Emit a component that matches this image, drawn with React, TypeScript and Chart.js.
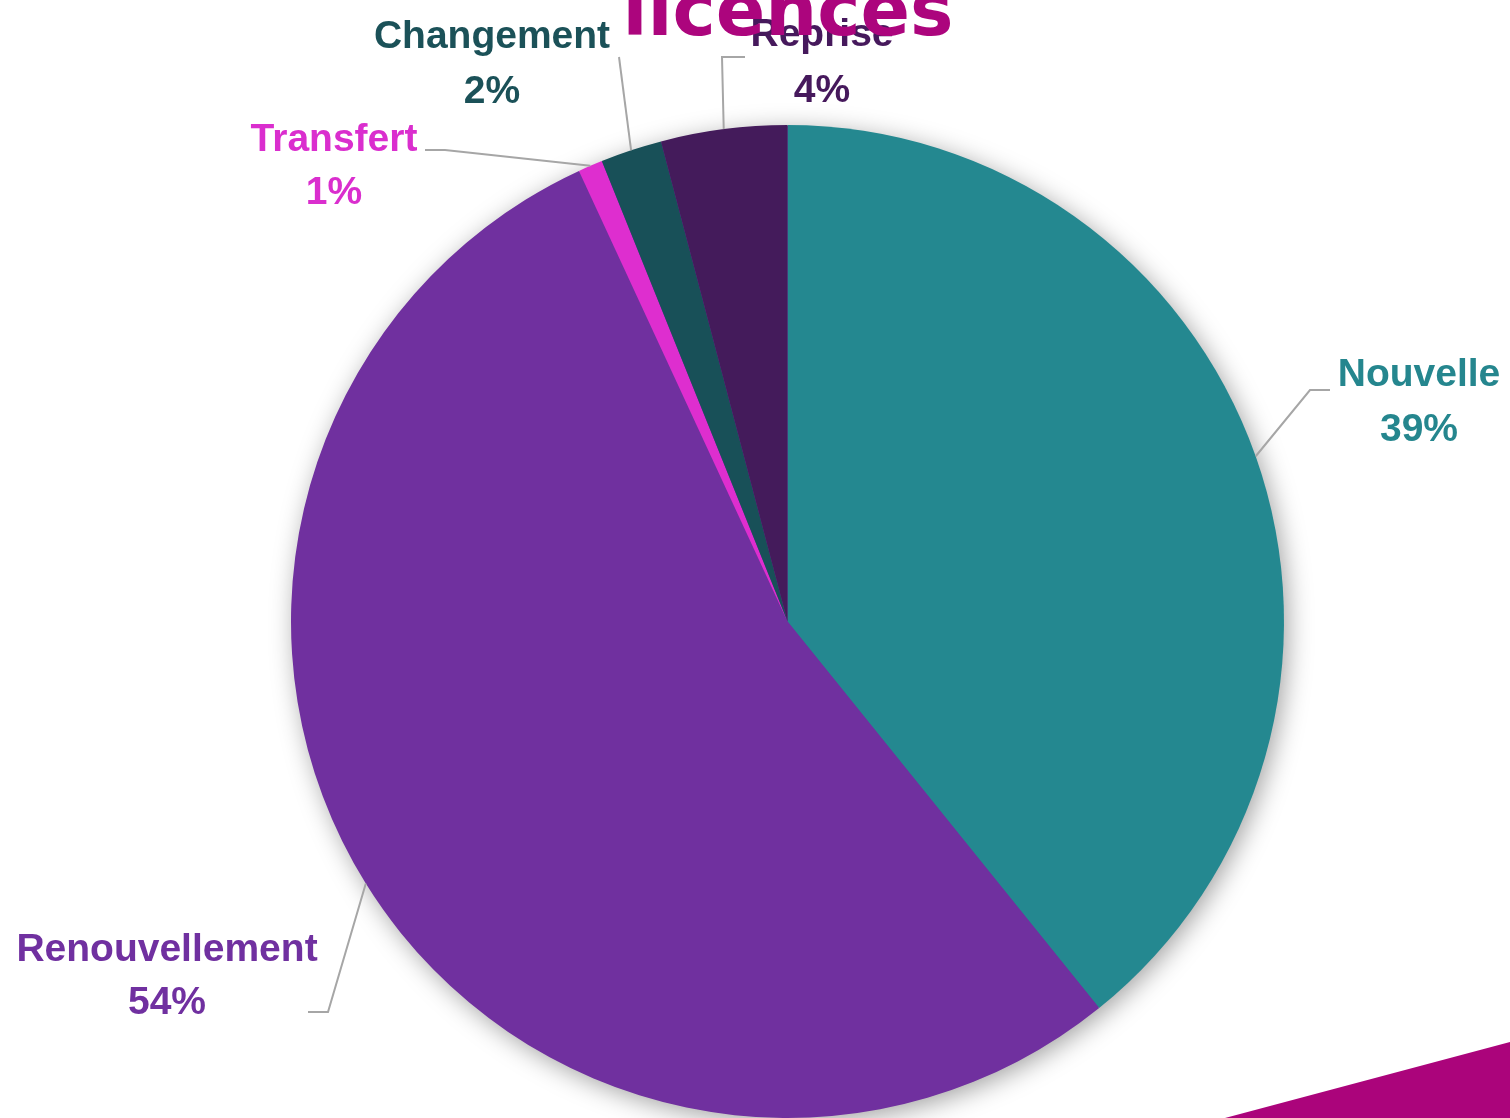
import React, { useEffect, useRef } from "react";
import { Chart, registerables } from "chart.js";

Chart.register(...registerables);

// ---- Data ----
const categories = ["Nouvelle", "Renouvellement", "Transfert", "Changement", "Reprise"];
const values = [39.2, 53.9, 0.8, 2.0, 4.1];
const sliceColors = ["#248890", "#70309F", "#DE2ECF", "#185058", "#441B5B"];
const labelColors = ["#25868E", "#7030A0", "#DA2ECE", "#1B5158", "#46195C"];
const titleText = "licences";

// ---- Label layout (text placement + leader line bends) ----
const LABEL_LAYOUT = [
  { cx: 1419, y1: 386, y2: 441, pts: [[1310, 390], [1330, 390]] },
  { cx: 167, y1: 961, y2: 1014, pts: [[328, 1012], [308, 1012]] },
  { cx: 334, y1: 151, y2: 204, pts: [[445, 150], [425, 150]] },
  { cx: 492, y1: 48, y2: 103, pts: [[619, 57]] },
  { cx: 822, y1: 46, y2: 102, pts: [[722, 57], [745, 57]] },
];

const W = 1510;
const H = 1118;

const shadowPlugin = {
  id: "pieShadow",
  beforeDatasetsDraw(chart: any) {
    const meta = chart.getDatasetMeta(0);
    const a = meta.data[0];
    if (!a) return;
    const { x, y, outerRadius } = a.getProps(["x", "y", "outerRadius"], true);
    const ctx = chart.ctx;
    ctx.save();
    ctx.shadowColor = "rgba(0,0,0,0.38)";
    ctx.shadowBlur = 26;
    ctx.shadowOffsetX = 4;
    ctx.shadowOffsetY = 5;
    ctx.beginPath();
    ctx.arc(x, y, outerRadius - 1, 0, Math.PI * 2);
    ctx.fillStyle = "#7030A0";
    ctx.fill();
    ctx.restore();
  },
};

const labelPlugin = {
  id: "pieLabels",
  afterDatasetsDraw(chart: any) {
    const ctx = chart.ctx;
    const meta = chart.getDatasetMeta(0);
    const data: number[] = chart.data.datasets[0].data;
    const total = data.reduce((s, v) => s + v, 0);
    meta.data.forEach((arc: any, i: number) => {
      const { x, y, startAngle, endAngle, outerRadius } = arc.getProps(
        ["x", "y", "startAngle", "endAngle", "outerRadius"],
        true
      );
      const mid = (startAngle + endAngle) / 2;
      const sx = x + Math.cos(mid) * outerRadius;
      const sy = y + Math.sin(mid) * outerRadius;
      const lay = LABEL_LAYOUT[i];
      ctx.save();
      ctx.strokeStyle = "#A6A6A6";
      ctx.lineWidth = 2;
      ctx.beginPath();
      ctx.moveTo(sx, sy);
      lay.pts.forEach((p) => ctx.lineTo(p[0], p[1]));
      ctx.stroke();
      ctx.fillStyle = labelColors[i];
      ctx.font = "bold 39px 'Liberation Sans', Arial, sans-serif";
      ctx.textAlign = "center";
      ctx.textBaseline = "alphabetic";
      ctx.fillText(chart.data.labels[i], lay.cx, lay.y1);
      const pct = Math.round((data[i] / total) * 100) + "%";
      ctx.fillText(pct, lay.cx, lay.y2);
      ctx.restore();
    });
  },
  afterDraw(chart: any) {
    const ctx = chart.ctx;
    ctx.save();
    // title (partially cropped at top)
    ctx.fillStyle = "#AC057D";
    ctx.font = "bold 73px 'DejaVu Sans', sans-serif";
    ctx.textAlign = "center";
    ctx.textBaseline = "alphabetic";
    ctx.fillText(titleText, 788, 35);
    // decorative corner triangle
    ctx.fillStyle = "#AB047B";
    ctx.beginPath();
    ctx.moveTo(1225, H);
    ctx.lineTo(W, 1042);
    ctx.lineTo(W, H);
    ctx.closePath();
    ctx.fill();
    ctx.restore();
  },
};

export default function App() {
  const ref = useRef<HTMLCanvasElement | null>(null);
  useEffect(() => {
    if (!ref.current) return;
    const chart = new Chart(ref.current, {
      type: "pie",
      data: {
        labels: categories,
        datasets: [
          {
            data: values,
            backgroundColor: sliceColors,
            borderWidth: 0,
          },
        ],
      },
      options: {
        responsive: false,
        animation: false,
        layout: { padding: { top: 125, bottom: 0, left: 291, right: 226 } },
        plugins: {
          legend: { display: false },
          tooltip: { enabled: false },
          title: { display: false },
        },
      },
      plugins: [shadowPlugin, labelPlugin],
    });
    return () => chart.destroy();
  }, []);
  return (
    <div style={{ position: "absolute", left: 0, top: 0, width: W, height: H, background: "#ffffff" }}>
      <canvas ref={ref} width={W} height={H} style={{ display: "block" }} />
    </div>
  );
}
